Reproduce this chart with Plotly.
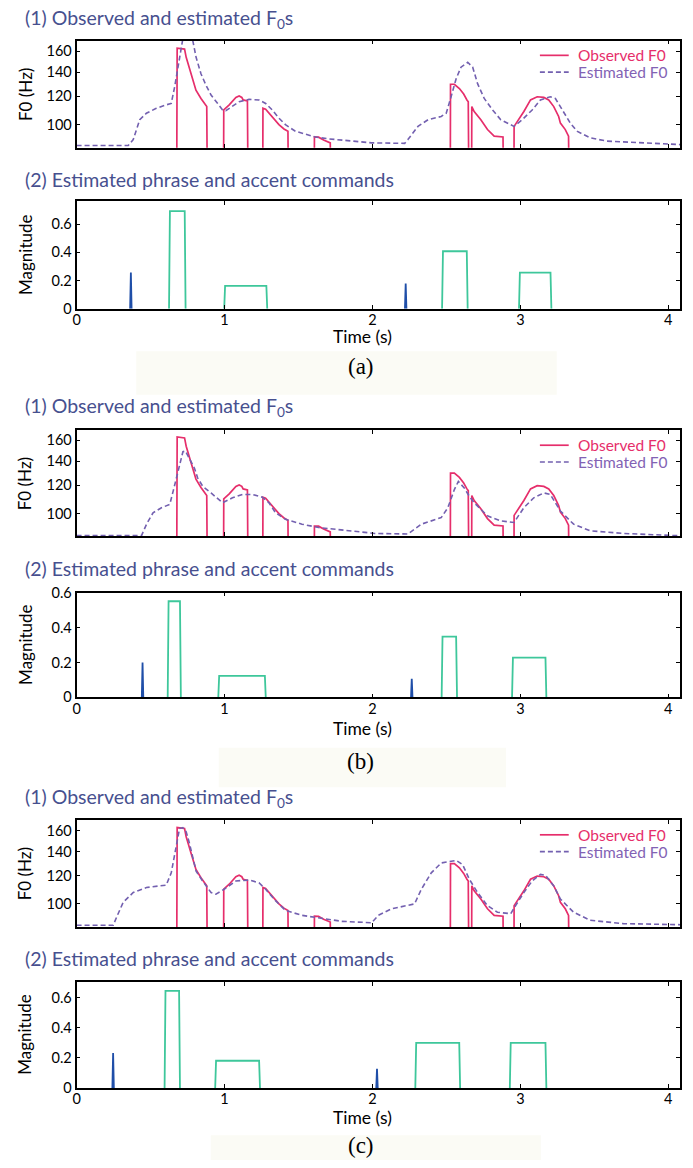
import plotly.graph_objects as go

# ---------------- data ----------------
# Observed F0 (same in all three panels); 0 = unvoiced frame
obs_t = [0.675, 0.680, 0.730, 0.741, 0.774, 0.797, 0.807, 0.841, 0.871, 0.880, 0.888,
         0.992, 0.995, 1.032, 1.077, 1.099, 1.117, 1.126, 1.155, 1.163,
         1.257, 1.260, 1.278, 1.301, 1.334, 1.368, 1.402, 1.429, 1.436,
         1.605, 1.608, 1.636, 1.670, 1.715, 1.728,
         2.525, 2.528, 2.554, 2.588, 2.617, 2.639, 2.648, 2.656,
         2.669, 2.672, 2.688, 2.733, 2.778, 2.823, 2.883, 2.891,
         2.955, 2.958, 2.980, 3.024, 3.069, 3.114, 3.159, 3.192, 3.226, 3.259, 3.271, 3.304, 3.326, 3.336]
obs_f0 = [0, 163.4, 162.4, 154.0, 138.6, 128.8, 124.8, 118.3, 113.5, 112.3, 0,
          0, 109.9, 113.5, 119.1, 120.2, 119.1, 117.2, 116.4, 0,
          0, 111.1, 110.4, 107.6, 103.2, 100.0, 97.3, 95.9, 0,
          0, 92.4, 92.3, 90.6, 89.0, 0,
          0, 129.6, 129.6, 126.1, 121.7, 117.2, 115.9, 0,
          0, 112.3, 108.8, 103.2, 96.9, 92.9, 92.4, 0,
          0, 98.9, 102.1, 108.8, 117.2, 119.6, 119.1, 117.2, 112.3, 105.4, 101.0, 96.9, 92.9, 0]

# Estimated F0, panel (a)
est_a_t = [0, 0.349, 0.383, 0.427, 0.472, 0.539, 0.604, 0.640, 0.663, 0.685, 0.707, 0.73, 0.76,
           0.786, 0.808, 0.841, 0.875, 0.909, 0.954, 0.987, 1.009, 1.054, 1.099, 1.166, 1.233,
           1.278, 1.323, 1.368, 1.412, 1.479, 1.547, 1.614, 1.704, 1.79, 1.995, 2.218, 2.240,
           2.308, 2.376, 2.465, 2.499, 2.532, 2.566, 2.599, 2.644, 2.678, 2.711, 2.756, 2.812,
           2.868, 2.957, 3.013, 3.080, 3.136, 3.203, 3.237, 3.282, 3.338, 3.383, 3.472, 3.584,
           3.808, 4.08]
est_a_f0 = [87.5, 87.5, 90.9, 103.2, 107.6, 111.1, 113.5, 114.6, 127.4, 144.6, 167.6, 185.0, 184.0,
            171.2, 154.0, 138.6, 128.8, 120.9, 114.6, 109.9, 109.4, 112.3, 115.9, 117.6, 117.2,
            114.6, 109.9, 104.3, 100.0, 95.9, 93.9, 92.4, 91.3, 90.5, 89.0, 88.7, 90.9,
            98.9, 103.2, 105.4, 107.6, 119.6, 134.3, 144.6, 149.2, 144.6, 130.1, 118.3, 109.9,
            103.2, 98.9, 103.2, 109.9, 117.2, 119.6, 118.3, 109.9, 101.0, 95.9, 91.9, 90.0,
            89.0, 88.0]

# Estimated F0, panel (b)
est_b_t = [0, 0.439, 0.473, 0.517, 0.574, 0.630, 0.653, 0.685, 0.719, 0.736, 0.763, 0.797, 0.819,
           0.853, 0.909, 0.987, 1.054, 1.121, 1.189, 1.256, 1.301, 1.345, 1.412, 1.524, 1.636,
           1.793, 2.017, 2.240, 2.331, 2.465, 2.510, 2.554, 2.581, 2.621, 2.655, 2.688, 2.778,
           2.868, 2.957, 3.024, 3.091, 3.159, 3.203, 3.271, 3.360, 3.472, 3.696, 4.08]
est_b_f0 = [86.9, 86.9, 93.5, 100.6, 103.9, 106.1, 115.5, 131.0, 148.7, 149.3, 142.5, 133.8, 125.6,
            119.1, 114.2, 107.2, 110.7, 113.1, 113.1, 111.1, 107.2, 100.6, 96.5, 93.5, 91.5,
            90.0, 88.1, 87.8, 93.5, 97.5, 103.9, 116.7, 122.9, 117.9, 111.8, 107.2, 98.6,
            95.5, 94.5, 103.9, 110.7, 114.2, 113.1, 101.7, 93.5, 89.6, 88.1, 86.8]

# Estimated F0, panel (c)
est_c_t = [0, 0.248, 0.271, 0.315, 0.383, 0.472, 0.562, 0.606, 0.640, 0.674, 0.696, 0.718, 0.741,
           0.763, 0.808, 0.852, 0.909, 0.942, 0.998, 1.077, 1.166, 1.233, 1.278, 1.345, 1.412,
           1.524, 1.636, 1.793, 1.995, 2.040, 2.129, 2.285, 2.331, 2.398, 2.465, 2.566, 2.610,
           2.655, 2.711, 2.778, 2.845, 2.935, 2.968, 3.024, 3.080, 3.136, 3.170, 3.226, 3.271,
           3.360, 3.472, 3.696, 4.08]
est_c_f0 = [87.2, 87.2, 91.9, 101.0, 107.6, 111.1, 112.3, 112.8, 122.1, 144.6, 162.4, 163.4, 159.0,
            147.7, 123.5, 115.9, 107.6, 106.5, 109.9, 115.9, 116.6, 114.6, 109.9, 102.1, 95.9,
            92.9, 91.3, 89.4, 88.6, 92.9, 96.9, 100.0, 109.9, 122.1, 130.1, 132.3, 128.8,
            117.2, 107.6, 98.9, 94.8, 93.9, 98.9, 107.6, 115.9, 120.9, 120.2, 112.3, 103.2,
            94.8, 90.0, 88.1, 87.5]

# Phrase commands (time, magnitude) and accent commands (onset, offset, amplitude)
phrase_a_t = [0.367, 2.225]
phrase_a_mag = [0.257, 0.180]
accent_a_on = [0.625, 0.998, 2.471, 2.991]
accent_a_off = [0.737, 1.289, 2.644, 3.210]
accent_a_amp = [0.692, 0.163, 0.408, 0.257]

phrase_b_t = [0.446, 2.266]
phrase_b_mag = [0.201, 0.107]
accent_b_on = [0.616, 0.958, 2.468, 2.944]
accent_b_off = [0.705, 1.279, 2.572, 3.176]
accent_b_amp = [0.553, 0.124, 0.350, 0.229]

phrase_c_t = [0.247, 2.031]
phrase_c_mag = [0.233, 0.127]
accent_c_on = [0.595, 0.937, 2.290, 2.929]
accent_c_off = [0.699, 1.240, 2.593, 3.176]
accent_c_amp = [0.644, 0.181, 0.299, 0.299]

f0_ticks = [100, 120, 140, 160]
mag_ticks = [0, 0.2, 0.4, 0.6]
mag_labels = ["0", "0.2", "0.4", "0.6"]
time_ticks = [0, 1, 2, 3, 4]
panel_labels = ["(a)", "(b)", "(c)"]

# ---------------- styling / layout ----------------
W, H = 693, 1168
X0, X1 = 73, 680
OBS_C = "#e62e6b"
EST_C = "#7360b0"
PHR_C = "#1f4ea8"
ACC_C = "#3ec79b"
TITLE_C = "#47508f"
SANS = "Lato"
UNVOICED_FLOOR = 40.0


def fx(p):
    return p / W


def fy(p):
    return 1 - p / H


panels = [
    dict(est_t=est_a_t, est_f=est_a_f0, ph_t=phrase_a_t, ph_m=phrase_a_mag,
         ac_on=accent_a_on, ac_off=accent_a_off, ac_amp=accent_a_amp,
         f0_top=33, f0_bot=141.7, f0_range=[1.9357, 2.2343],
         cmd_top=196, cmd_bot=305, cmd_max=0.762,
         t1_y=11, t2_y=174, time_y=333, lab_y=363, box=(133, 348, 556, 392)),
    dict(est_t=est_b_t, est_f=est_b_f0, ph_t=phrase_b_t, ph_m=phrase_b_mag,
         ac_on=accent_b_on, ac_off=accent_b_off, ac_amp=accent_b_amp,
         f0_top=428.3, f0_bot=535.7, f0_range=[1.9369, 2.2315],
         cmd_top=592.7, cmd_bot=699, cmd_max=0.603,
         t1_y=405, t2_y=568, time_y=730, lab_y=764, box=(216, 750, 505, 790)),
    dict(est_t=est_c_t, est_f=est_c_f0, ph_t=phrase_c_t, ph_m=phrase_c_mag,
         ac_on=accent_c_on, ac_off=accent_c_off, ac_amp=accent_c_amp,
         f0_top=823.3, f0_bot=931.7, f0_range=[1.9357, 2.2343],
         cmd_top=987.3, cmd_bot=1095, cmd_max=0.705,
         t1_y=801, t2_y=964, time_y=1125, lab_y=1153, box=(208, 1143, 540, 1168)),
]

fig = go.Figure()
annotations = []
shapes = []
layout_axes = {}

obs_plot = [f if f > 0 else UNVOICED_FLOOR for f in obs_f0]

axis_common = dict(showline=True, linecolor="black", linewidth=1.8, mirror="ticks",
                   ticks="inside", ticklen=4, tickwidth=1.2, tickcolor="black",
                   showgrid=False, zeroline=False,
                   tickfont=dict(family=SANS, size=14.5, color="black"))

for i, p in enumerate(panels):
    ia = 2 * i + 1  # F0 axes index
    ib = 2 * i + 2  # command axes index
    xa, ya = f"x{ia}", f"y{ia}"
    xb, yb = f"x{ib}", f"y{ib}"

    # F0 traces
    fig.add_trace(go.Scatter(x=obs_t, y=obs_plot, mode="lines", xaxis=xa, yaxis=ya,
                             line=dict(color=OBS_C, width=1.7), showlegend=False,
                             name="Observed F0"))
    fig.add_trace(go.Scatter(x=p["est_t"], y=p["est_f"], mode="lines", xaxis=xa, yaxis=ya,
                             line=dict(color=EST_C, width=1.6, dash="5px,3px"),
                             showlegend=False, name="Estimated F0"))

    # accent commands as pulses
    ax, ay = [], []
    for on, off, amp in zip(p["ac_on"], p["ac_off"], p["ac_amp"]):
        ax += [on, on + 0.006, off - 0.006, off, None]
        ay += [0, amp, amp, 0, None]
    fig.add_trace(go.Scatter(x=ax, y=ay, mode="lines", xaxis=xb, yaxis=yb,
                             line=dict(color=ACC_C, width=1.8), showlegend=False,
                             name="Accent commands"))
    # phrase commands as impulses
    px_, py_ = [], []
    for t, m in zip(p["ph_t"], p["ph_m"]):
        px_ += [t - 0.005, t, t + 0.005, None]
        py_ += [0, m, 0, None]
    fig.add_trace(go.Scatter(x=px_, y=py_, mode="lines", xaxis=xb, yaxis=yb,
                             line=dict(color=PHR_C, width=1.8), showlegend=False,
                             name="Phrase commands"))

    xa_key = "xaxis" if ia == 1 else f"xaxis{ia}"
    ya_key = "yaxis" if ia == 1 else f"yaxis{ia}"
    layout_axes[xa_key] = dict(axis_common, domain=[fx(X0), fx(X1)], range=[0, 4.08],
                               tickvals=time_ticks, showticklabels=False, anchor=ya)
    layout_axes[ya_key] = dict(axis_common, domain=[fy(p["f0_bot"]), fy(p["f0_top"])],
                               type="log", range=p["f0_range"], tickvals=f0_ticks,
                               anchor=xa)
    layout_axes[f"xaxis{ib}"] = dict(axis_common, domain=[fx(X0), fx(X1)], range=[0, 4.08],
                                     tickvals=time_ticks, anchor=yb, ticklabelstandoff=-3)
    layout_axes[f"yaxis{ib}"] = dict(axis_common, domain=[fy(p["cmd_bot"]), fy(p["cmd_top"])],
                                     range=[0, p["cmd_max"]], tickvals=mag_ticks,
                                     ticktext=mag_labels, anchor=xb)

    # section titles
    annotations.append(dict(text="(1) Observed and estimated F<sub>0</sub>s", x=fx(19),
                            y=fy(p["t1_y"]), xref="paper", yref="paper", xanchor="left",
                            yanchor="middle", showarrow=False,
                            font=dict(family=SANS, size=19.5, color=TITLE_C)))
    annotations.append(dict(text="(2) Estimated phrase and accent commands", x=fx(19),
                            y=fy(p["t2_y"]), xref="paper", yref="paper", xanchor="left",
                            yanchor="middle", showarrow=False,
                            font=dict(family=SANS, size=19.5, color=TITLE_C)))
    # axis titles
    annotations.append(dict(text="F0 (Hz)", x=fx(21), y=fy((p["f0_top"] + p["f0_bot"]) / 2),
                            xref="paper", yref="paper", textangle=-90, showarrow=False,
                            xanchor="center", yanchor="middle",
                            font=dict(family=SANS, size=17, color="black")))
    annotations.append(dict(text="Magnitude", x=fx(21), y=fy((p["cmd_top"] + p["cmd_bot"]) / 2),
                            xref="paper", yref="paper", textangle=-90, showarrow=False,
                            xanchor="center", yanchor="middle",
                            font=dict(family=SANS, size=17, color="black")))
    annotations.append(dict(text="Time (s)", x=fx(361), y=fy(p["time_y"]),
                            xref="paper", yref="paper", showarrow=False,
                            xanchor="center", yanchor="middle",
                            font=dict(family=SANS, size=17.5, color="black")))
    annotations.append(dict(text=panel_labels[i], x=fx(359), y=fy(p["lab_y"]),
                            xref="paper", yref="paper", showarrow=False,
                            xanchor="center", yanchor="middle",
                            font=dict(family="Liberation Serif", size=23, color="black")))
    # legend (manual)
    ly1 = p["f0_top"] + 15
    ly2 = p["f0_top"] + 32
    shapes.append(dict(type="line", xref="paper", yref="paper", x0=fx(539), x1=fx(568),
                       y0=fy(ly1), y1=fy(ly1), line=dict(color=OBS_C, width=1.7)))
    shapes.append(dict(type="line", xref="paper", yref="paper", x0=fx(539), x1=fx(568),
                       y0=fy(ly2), y1=fy(ly2), line=dict(color=EST_C, width=1.6, dash="5px,3px")))
    annotations.append(dict(text="Observed F0", x=fx(575), y=fy(ly1), xref="paper", yref="paper",
                            xanchor="left", yanchor="middle", showarrow=False,
                            font=dict(family=SANS, size=15.5, color=OBS_C)))
    annotations.append(dict(text="Estimated F0", x=fx(575), y=fy(ly2), xref="paper", yref="paper",
                            xanchor="left", yanchor="middle", showarrow=False,
                            font=dict(family=SANS, size=15.5, color="#8262b4")))
    # faint caption background
    bx0, by0, bx1, by1 = p["box"]
    shapes.append(dict(type="rect", xref="paper", yref="paper", x0=fx(bx0), x1=fx(bx1),
                       y0=fy(by1), y1=fy(by0), fillcolor="#fbfbf5", line=dict(width=0),
                       layer="below"))

fig.update_layout(width=W, height=H, margin=dict(l=0, r=0, t=0, b=0),
                  paper_bgcolor="white", plot_bgcolor="rgba(0,0,0,0)",
                  showlegend=False, annotations=annotations, shapes=shapes,
                  **layout_axes)

fig.write_html("out.html")
